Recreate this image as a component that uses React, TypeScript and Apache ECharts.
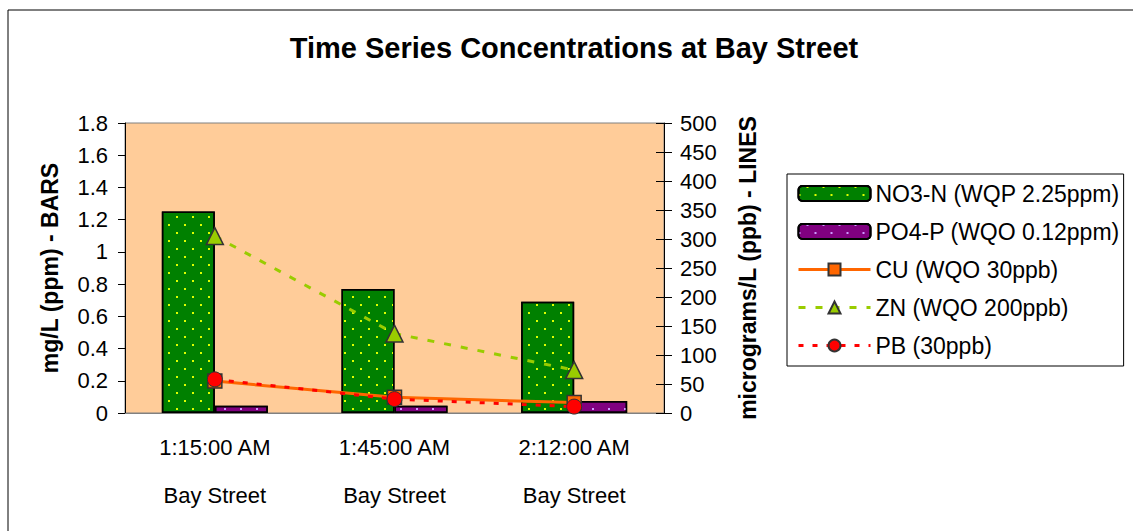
import React, { useEffect, useRef } from "react";
import * as echarts from "echarts";

const times = ["1:15:00 AM", "1:45:00 AM", "2:12:00 AM"];
const sites = ["Bay Street", "Bay Street", "Bay Street"];
const no3n = [1.25, 0.77, 0.69];
const po4p = [0.045, 0.045, 0.075];
const cu = [55, 27, 18];
const zn = [305, 137, 74];
const pb = [58, 24, 11];
const seriesNames = [
  "NO3-N (WQP 2.25ppm)",
  "PO4-P (WQO 0.12ppm)",
  "CU (WQO 30ppb)",
  "ZN (WQO 200ppb)",
  "PB (30ppb)",
];
const titleText = "Time Series Concentrations at Bay Street";
const leftAxisName = "mg/L (ppm) - BARS";
const rightAxisName = "micrograms/L (ppb) - LINES";

const FONT = "'Liberation Sans', Arial, sans-serif";
const FS = 22;

const dotDecal = (color: string) => ({
  symbol: "rect",
  symbolSize: 1,
  color,
  dashArrayX: [
    [2, 14],
    [0, 8, 2, 6],
  ],
  dashArrayY: [2, 6],
  rotation: 0,
  symbolKeepAspect: false,
});

export default function App() {
  const ref = useRef<HTMLDivElement>(null);
  useEffect(() => {
    if (!ref.current) return;
    const chart = echarts.init(ref.current, null, { renderer: "svg" });
    const categories = times.map((t, i) => t + "\n" + sites[i]);
    chart.setOption({
      animation: false,
      backgroundColor: "#ffffff",
      textStyle: { fontFamily: FONT, color: "#000" },
      graphic: [
        {
          type: "rect",
          shape: { x: 8, y: 10, width: 1300, height: 700 },
          style: { fill: "none", stroke: "#000", lineWidth: 1 },
          silent: true,
          z: -10,
        },
        {
          type: "text",
          x: 574,
          y: 48,
          style: {
            text: titleText,
            fontFamily: FONT,
            fontSize: 29,
            fontWeight: "bold",
            fill: "#000",
            textAlign: "center",
            textVerticalAlign: "middle",
          },
        },
      ],
      grid: {
        left: 125,
        right: 1133 - 664,
        top: 123,
        bottom: 531 - 413,
        show: true,
        backgroundColor: "#FFCC99",
        borderColor: "#808080",
        borderWidth: 1,
      },
      legend: {
        orient: "vertical",
        left: 787,
        top: 174,
        itemWidth: 72,
        itemHeight: 15,
        itemGap: 15,
        padding: [8, 4, 9, 10],
        borderColor: "#000",
        borderWidth: 1,
        lineStyle: { width: 3 },
        textStyle: { fontFamily: FONT, fontSize: 23, color: "#000" },
        data: seriesNames,
      },
      xAxis: {
        type: "category",
        data: categories,
        axisLine: { show: true, lineStyle: { color: "#808080" } },
        axisTick: { show: false },
        axisLabel: {
          fontFamily: FONT,
          fontSize: FS,
          color: "#000",
          lineHeight: 48,
          margin: 10,
          interval: 0,
        },
        splitLine: { show: false },
      },
      yAxis: [
        {
          type: "value",
          min: 0,
          max: 1.8,
          interval: 0.2,
          position: "left",
          name: leftAxisName,
          nameLocation: "middle",
          nameRotate: 90,
          nameGap: 64,
          nameTextStyle: { fontFamily: FONT, fontSize: 23, fontWeight: "bold", color: "#000" },
          axisLine: { show: true, lineStyle: { color: "#000" } },
          axisTick: { show: true, length: 7, lineStyle: { color: "#000" } },
          axisLabel: { fontFamily: FONT, fontSize: FS, color: "#000", margin: 17 },
          splitLine: { show: false },
        },
        {
          type: "value",
          min: 0,
          max: 500,
          interval: 50,
          position: "right",
          name: rightAxisName,
          nameLocation: "middle",
          nameRotate: 90,
          nameGap: 72,
          nameTextStyle: { fontFamily: FONT, fontSize: 23, fontWeight: "bold", color: "#000" },
          axisLine: { show: true, lineStyle: { color: "#000" } },
          axisTick: { show: true, length: 8, lineStyle: { color: "#000" } },
          axisLabel: { fontFamily: FONT, fontSize: FS, color: "#000", margin: 16 },
          splitLine: { show: false },
        },
        {
          type: "value",
          min: 0,
          max: 500,
          interval: 50,
          position: "right",
          axisLine: { show: false },
          axisTick: { show: true, inside: true, length: 8, lineStyle: { color: "#000" } },
          axisLabel: { show: false },
          splitLine: { show: false },
        },
      ],
      series: [
        {
          name: seriesNames[0],
          type: "bar",
          yAxisIndex: 0,
          data: no3n,
          barWidth: 53,
          barGap: "0%",
          itemStyle: {
            color: "#008000",
            borderColor: "#000",
            borderWidth: 1.5,
            decal: dotDecal("#DDFF00"),
          },
        },
        {
          name: seriesNames[1],
          type: "bar",
          yAxisIndex: 0,
          data: po4p,
          barWidth: 53,
          barGap: "0%",
          itemStyle: {
            color: "#800080",
            borderColor: "#000",
            borderWidth: 1.5,
            decal: dotDecal("#CC99FF"),
          },
        },
        {
          name: seriesNames[2],
          type: "line",
          yAxisIndex: 1,
          data: cu,
          symbol: "rect",
          symbolSize: 14,
          lineStyle: { color: "#FF6600", width: 3, type: "solid" },
          itemStyle: { color: "#FF6600", borderColor: "#333333", borderWidth: 1.5 },
          z: 3,
        },
        {
          name: seriesNames[3],
          type: "line",
          yAxisIndex: 1,
          data: zn,
          symbol: "triangle",
          symbolSize: 17,
          lineStyle: { color: "#99CC00", width: 3, type: [7, 10] },
          itemStyle: { color: "#99CC00", borderColor: "#333333", borderWidth: 1.5 },
          z: 4,
        },
        {
          name: seriesNames[4],
          type: "line",
          yAxisIndex: 1,
          data: pb,
          symbol: "circle",
          symbolSize: 15,
          lineStyle: { color: "#FF0000", width: 3, type: [5, 9] },
          itemStyle: { color: "#FF0000", borderColor: "#333333", borderWidth: 1 },
          z: 5,
        },
      ],
    });
    return () => chart.dispose();
  }, []);
  return (
    <div
      ref={ref}
      style={{ position: "fixed", left: 0, top: 0, width: 1133, height: 531 }}
    />
  );
}
